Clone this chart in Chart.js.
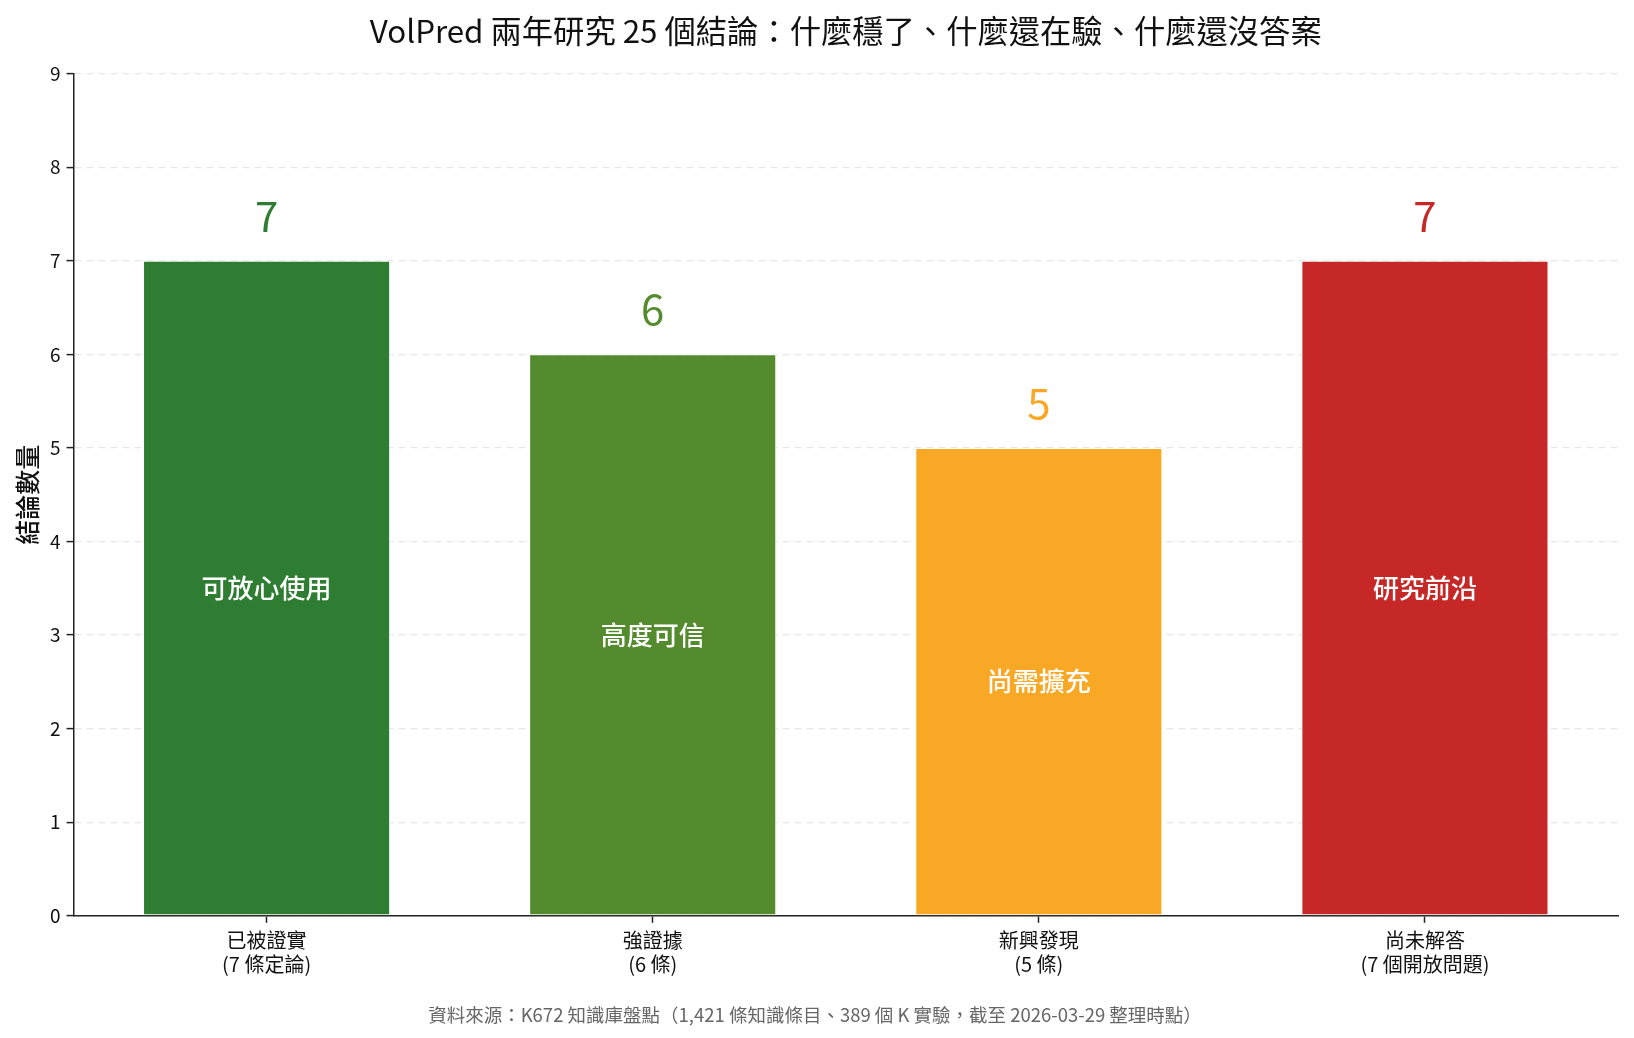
<!DOCTYPE html>
<html>
<head>
<meta charset="utf-8">
<script src="https://cdn.jsdelivr.net/npm/chart.js@4.4.1/dist/chart.umd.min.js"></script>
<style>
  html, body { margin: 0; padding: 0; background: #fff; }
  #wrap { width: 1634px; height: 1038px; }
</style>
</head>
<body>
<div id="wrap"><canvas id="chart" width="1634" height="1038"></canvas></div>
<script>
const FONT = '"Noto Sans CJK TC", "Noto Sans", sans-serif';

// categories and values
const groupNames = ['已被證實', '強證據', '新興發現', '尚未解答'];
const groupNotes = ['(7 條定論)', '(6 條)', '(5 條)', '(7 個開放問題)'];
const counts = [7, 6, 5, 7];
const barTexts = ['可放心使用', '高度可信', '尚需擴充', '研究前沿'];
const barColors = ['#2e7d32', '#558b2f', '#f9a825', '#c62828'];
const yTicks = [0, 1, 2, 3, 4, 5, 6, 7, 8, 9];

const labels = groupNames.map((n, i) => [n, groupNotes[i]]);

// draws the count above each bar and the tag inside it
const barLabels = {
    id: 'barLabels',
    afterDatasetsDraw(chart) {
        const ctx = chart.ctx;
        const meta = chart.getDatasetMeta(0);
        meta.data.forEach((bar, i) => {
            ctx.save();
            ctx.textAlign = 'center';
            ctx.textBaseline = 'middle';
            ctx.fillStyle = barColors[i];
            ctx.font = '42px ' + FONT;
            ctx.fillText(String(counts[i]), bar.x, bar.y - 45);
            ctx.fillStyle = '#ffffff';
            ctx.font = '500 26px ' + FONT;
            ctx.fillText(barTexts[i], bar.x, (bar.y + bar.base) / 2);
            ctx.restore();
        });
    }
};

new Chart(document.getElementById('chart'), {
    type: 'bar',
    data: {
        labels: labels,
        datasets: [{
            data: counts,
            backgroundColor: barColors,
            borderColor: '#ffffff',
            borderWidth: 1,
            borderSkipped: false,
            barPercentage: 0.64,
            categoryPercentage: 1.0
        }]
    },
    options: {
        responsive: false,
        animation: false,
        layout: { padding: { left: 12, right: 16, top: 4, bottom: 8 } },
        plugins: {
            legend: { display: false },
            tooltip: { enabled: false },
            title: {
                display: true,
                text: 'VolPred 兩年研究 25 個結論：什麼穩了、什麼還在驗、什麼還沒答案',
                color: '#111',
                fullSize: false,
                font: { family: FONT, size: 31.3, weight: '400' },
                padding: { top: 8, bottom: 24 }
            },
            subtitle: {
                display: true,
                position: 'bottom',
                text: '資料來源：K672 知識庫盤點（1,421 條知識條目、389 個 K 實驗，截至 2026-03-29 整理時點）',
                color: '#666',
                font: { family: FONT, size: 18.5 },
                padding: { top: 21, bottom: 4 }
            }
        },
        scales: {
            x: {
                grid: { display: true, offset: false, drawOnChartArea: false, drawTicks: true, tickLength: 7, tickColor: '#222', tickWidth: 1.5 },
                border: { display: true, color: '#222', width: 1.5 },
                ticks: { color: '#111', font: { family: FONT, size: 20, lineHeight: 1.2 }, padding: 6, maxRotation: 0 }
            },
            y: {
                min: yTicks[0],
                max: yTicks[yTicks.length - 1],
                afterBuildTicks(scale) { scale.ticks = yTicks.map(v => ({ value: v })); },
                grid: { color: '#e8e8e8', lineWidth: 1.2, tickColor: '#222', tickLength: 7, tickWidth: 1.5 },
                border: { display: true, color: '#222', width: 1.5, dash: [7, 5] },
                ticks: { color: '#111', font: { family: FONT, size: 19 }, padding: 6 },
                title: {
                    display: true,
                    text: '結論數量',
                    color: '#111',
                    font: { family: FONT, size: 25, weight: '500' },
                    padding: { top: 0, bottom: 2 }
                }
            }
        }
    },
    plugins: [barLabels]
});
</script>
</body>
</html>
